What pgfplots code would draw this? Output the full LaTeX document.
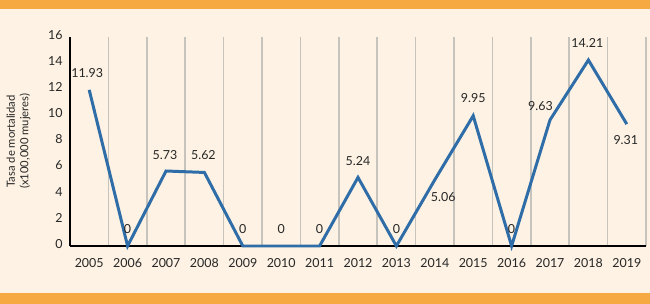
\documentclass[border=0pt]{standalone}
\usepackage{fontspec}
\setmainfont{Lato}
\usepackage{pgfplots}
\usepackage{pgfplotstable}
\pgfplotsset{compat=1.18}
\definecolor{orangeband}{HTML}{F7A941}
\definecolor{cream}{HTML}{FDF2E3}
\definecolor{lineblue}{HTML}{2E6DA8}
\definecolor{gridgray}{HTML}{C6C2BC}
\definecolor{txt}{HTML}{262626}

\pgfplotstableread{
x  y      lab    dx    dy
0  11.93  11.93  -2    17
1  0      0      0     17
2  5.73   5.73   -1    16.5
3  5.62   5.62   -1    17.5
4  0      0      0     17
5  0      0      0     17
6  0      0      0     17
7  5.24   5.24   0     16.5
8  0      0      0     17
9  5.06   5.06   8.5   -17
10 9.95   9.95   0     18
11 0      0      0     17
12 9.63   9.63   -9.5  13.5
13 14.21  14.21  -1    17.5
14 9.31   9.31   -1    -16
}\mydata

\begin{document}
\begin{tikzpicture}
\useasboundingbox (-70bp,-58bp) rectangle (580bp,246bp);
\fill[cream] (-70bp,-58bp) rectangle (580bp,246bp);
\fill[orangeband] (-70bp,236.5bp) rectangle (580bp,246bp);
\fill[orangeband] (-70bp,-58bp) rectangle (580bp,-46.7bp);
\begin{axis}[
  at={(0,0)}, anchor=south west,
  scale only axis, width=576bp, height=209.4bp,
  xmin=-0.5, xmax=14.5, ymin=0, ymax=16,
  axis x line=bottom, axis y line=left,
  axis line style={black, line width=2pt, -},
  xtick={0,...,14},
  xticklabels={2005,2006,2007,2008,2009,2010,2011,2012,2013,2014,2015,2016,2017,2018,2019},
  ytick={0,2,...,16},
  major tick length=0pt,
  minor xtick={0.5,1.5,...,14.5},
  minor tick length=0pt,
  xminorgrids=true,
  minor x grid style={gridgray, line width=1.6pt},
  tick label style={font=\fontsize{12.5}{14}\selectfont, text=txt},
  /pgf/number format/assume math mode=true,
  xticklabel style={anchor=base, yshift=-21.5bp},
  yticklabel style={anchor=east, xshift=-4bp, yshift=2bp},
  ylabel={Tasa de mortalidad\\(x100,000 mujeres)},
  every axis y label/.style={at={(axis description cs:-0.0894,0.5)}, rotate=90, anchor=center, align=center, font=\fontsize{11.3}{13.5}\selectfont, text=txt},
  clip=false,
]
\addplot[lineblue, line width=3pt, line join=miter,
  point meta=explicit symbolic,
  nodes near coords,
  visualization depends on={\thisrow{dx} \as \dx},
  visualization depends on={\thisrow{dy} \as \dy},
  every node near coord/.append style={anchor=center, xshift=\dx, yshift=\dy, font=\fontsize{12.5}{14}\selectfont, text=txt, inner sep=0pt},
] table[x=x, y=y, meta=lab] {\mydata};
\end{axis}
\end{tikzpicture}
\end{document}
